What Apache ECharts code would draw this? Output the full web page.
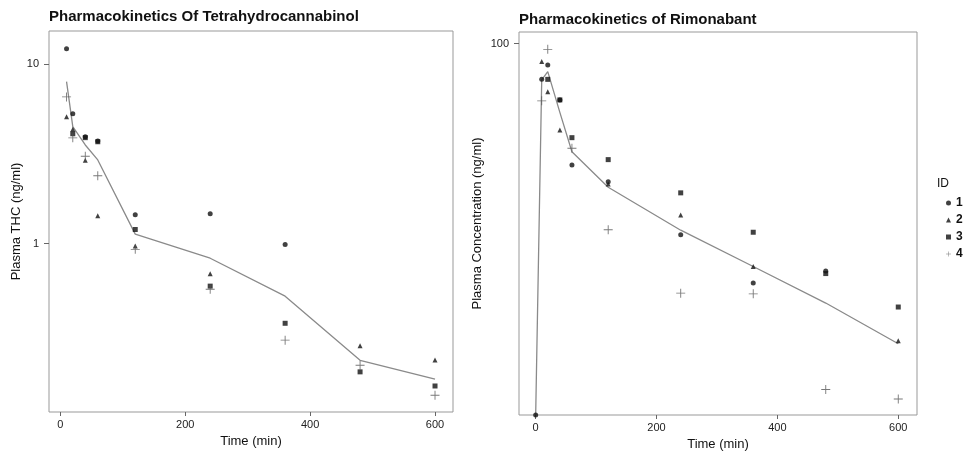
<!DOCTYPE html>
<html>
<head>
<meta charset="utf-8">
<script src="https://cdn.jsdelivr.net/npm/echarts@6/dist/echarts.min.js"></script>
<style>
  html, body { margin: 0; padding: 0; background: #fff; }
  #chart { width: 974px; height: 456px; }
</style>
</head>
<body>
<div id="chart"></div>
<script>
// sampling times (min)
const times = [0, 10, 20, 40, 60, 120, 240, 360, 480, 600];
const xTicks = [0, 200, 400, 600];

// THC (ng/ml), one array per subject, null = not plotted
const thcId1 = [null, 12.2, 5.3, 3.95, 3.74, 1.45, 1.47, 0.99, null, null];
const thcId2 = [null, 5.1, 4.35, 2.92, 1.43, 0.97, 0.68, null, 0.27, 0.225];
const thcId3 = [null, null, 4.1, 3.9, 3.7, 1.2, 0.58, 0.36, 0.193, 0.161];
const thcId4 = [null, 6.58, 3.89, 3.07, 2.39, 0.93, 0.557, 0.29, 0.21, 0.143];
const thcMean = [null, 8.0, 4.49, 3.55, 2.93, 1.13, 0.83, 0.51, 0.224, 0.176];
const thcTicks = [1, 10];

// Rimonabant (ng/ml)
const rimId1 = [11, 80.9, 88.1, 71.6, 48.6, 44.0, 32.1, 24.1, 25.9, null];
const rimId2 = [null, 89.9, 75.2, 59.9, null, 43.4, 36.1, 26.6, null, 17.1];
const rimId3 = [null, null, 80.9, 71.6, 57.2, 50.2, 41.2, 32.6, 25.5, 20.9];
const rimId4 = [null, 71.2, 96.7, null, 53.7, 33.1, 22.7, 22.6, 12.8, 12.1];
const rimMean = [11, 80.7, 84.7, 66.5, 52.6, 42.6, 33.0, 26.6, 21.4, 16.8];
const rimTicks = [100];

const ids = ['1', '2', '3', '4'];
const FONT = 'Liberation Sans, Arial, sans-serif';
const plus = 'path://M3.6,0H4.4V3.6H8V4.4H4.4V8H3.6V4.4H0V3.6H3.6Z';
const marks = {
  '1': {symbol: 'circle', size: 5, color: '#111'},
  '2': {symbol: 'triangle', size: 5, color: '#111'},
  '3': {symbol: 'rect', size: 5, color: '#111'},
  '4': {symbol: plus, size: 9, color: '#555'}
};

function pairs(vals) {
  return times.map((t, i) => [t, vals[i]]).filter(p => p[1] != null);
}

function scatter(name, vals, k) {
  const m = marks[name];
  return {
    type: 'scatter', name, xAxisIndex: k, yAxisIndex: k,
    symbol: m.symbol, symbolSize: m.size,
    itemStyle: {color: m.color},
    data: pairs(vals), z: 3
  };
}

function meanLine(vals, k) {
  return {
    type: 'line', xAxisIndex: k, yAxisIndex: k, symbol: 'none',
    lineStyle: {color: '#8a8a8a', width: 1.3},
    data: pairs(vals), z: 2
  };
}

function xAxis(k, min, max) {
  return {
    type: 'value', gridIndex: k, min, max,
    name: 'Time (min)', nameLocation: 'middle', nameGap: 23,
    nameTextStyle: {fontFamily: FONT, fontSize: 13, color: '#111'},
    axisLine: {show: false, onZero: false}, splitLine: {show: false},
    axisTick: {show: true, customValues: xTicks, length: 4, lineStyle: {color: '#666', width: 1}},
    axisLabel: {customValues: xTicks, margin: 7, fontFamily: FONT, fontSize: 11, color: '#222'}
  };
}

function yAxis(k, min, max, ticks, name, gap) {
  return {
    type: 'log', logBase: 10, gridIndex: k, min, max,
    name, nameLocation: 'middle', nameGap: gap,
    nameTextStyle: {fontFamily: FONT, fontSize: 13, color: '#111'},
    axisLine: {show: false, onZero: false}, splitLine: {show: false},
    axisTick: {show: true, customValues: ticks, length: 5, lineStyle: {color: '#666', width: 1}},
    axisLabel: {customValues: ticks, margin: 10, fontFamily: FONT, fontSize: 11, color: '#222'}
  };
}

const chart = echarts.init(document.getElementById('chart'));
chart.setOption({
  animation: false,
  backgroundColor: '#fff',
  title: [
    {text: 'Pharmacokinetics Of Tetrahydrocannabinol', left: 49, top: 9, padding: 0,
     textStyle: {fontFamily: FONT, fontSize: 15, fontWeight: 'bold', color: '#111'}},
    {text: 'Pharmacokinetics of Rimonabant', left: 519, top: 12, padding: 0,
     textStyle: {fontFamily: FONT, fontSize: 15, fontWeight: 'bold', color: '#111'}},
    {text: 'ID', left: 937, top: 178, padding: 0,
     textStyle: {fontFamily: FONT, fontSize: 12, fontWeight: 'normal', color: '#111'}}
  ],
  legend: {
    data: ids, orient: 'vertical', left: 946, top: 197, padding: 0,
    itemWidth: 5, itemHeight: 5, itemGap: 5,
    textStyle: {fontFamily: FONT, fontSize: 12, fontWeight: 'bold', color: '#111'}
  },
  grid: [
    {left: 49, top: 31, width: 404, height: 381, outerBoundsMode: 'none',
     show: true, borderColor: '#999', borderWidth: 1},
    {left: 519, top: 32, width: 398, height: 383, outerBoundsMode: 'none',
     show: true, borderColor: '#999', borderWidth: 1}
  ],
  xAxis: [xAxis(0, -18.1, 628.8), xAxis(1, -27.6, 631)],
  yAxis: [
    yAxis(0, 0.1153, 15.33, thcTicks, 'Plasma THC (ng/ml)', 26),
    yAxis(1, 11, 107.2, rimTicks, 'Plasma Concentration (ng/ml)', 35)
  ],
  series: [
    meanLine(thcMean, 0),
    scatter('1', thcId1, 0), scatter('2', thcId2, 0),
    scatter('3', thcId3, 0), scatter('4', thcId4, 0),
    meanLine(rimMean, 1),
    scatter('1', rimId1, 1), scatter('2', rimId2, 1),
    scatter('3', rimId3, 1), scatter('4', rimId4, 1)
  ]
});
</script>
</body>
</html>
